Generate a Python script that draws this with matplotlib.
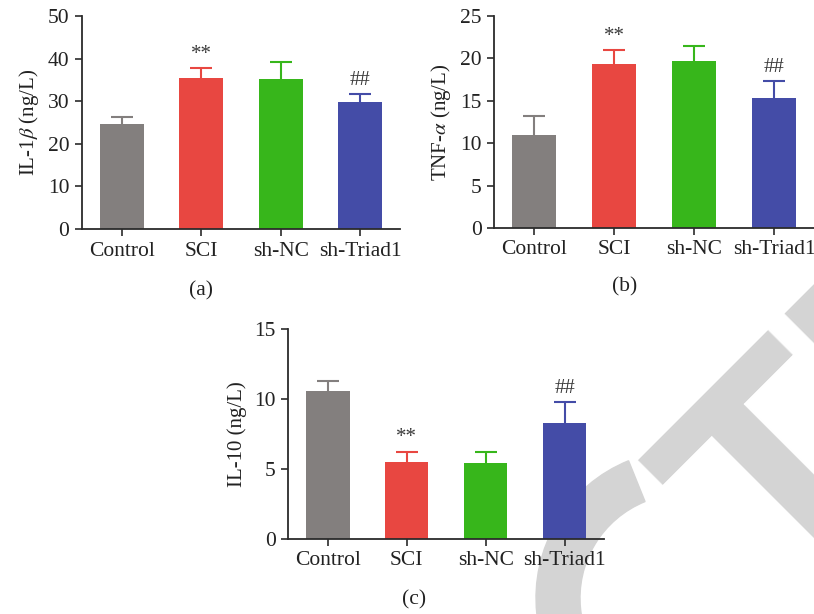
import numpy as np
import matplotlib
matplotlib.use("Agg")
import matplotlib.pyplot as plt
from matplotlib.patches import Wedge
from matplotlib.transforms import IdentityTransform

plt.rcParams.update(
    {
        "font.family": "Liberation Serif",
        "mathtext.fontset": "stix",
        "axes.linewidth": 1.3,
        "axes.edgecolor": "#2b2b2b",
        "xtick.color": "#2b2b2b",
        "ytick.color": "#2b2b2b",
        "xtick.labelcolor": "#222222",
        "ytick.labelcolor": "#222222",
    }
)

# %% datos
grupos = ["Control", "SCI", "sh-NC", "sh-Triad1"]
colores = ["#837f7e", "#e84741", "#37b61b", "#444ca7"]
marcas = ["", "**", "", "##"]

il1b = [24.6, 35.4, 35.2, 29.7]
il1b_err = [1.8, 2.4, 4.0, 1.9]

tnfa = [10.9, 19.35, 19.7, 15.35]
tnfa_err = [2.3, 1.65, 1.7, 2.0]

il10 = [10.56, 5.48, 5.43, 8.27]
il10_err = [0.7, 0.76, 0.77, 1.5]

paneles = [
    (il1b, il1b_err, "IL-1$\\beta$ (ng/L)", 50, 10, "(a)"),
    (tnfa, tnfa_err, "TNF-$\\alpha$ (ng/L)", 25, 5, "(b)"),
    (il10, il10_err, "IL-10 (ng/L)", 15, 5, "(c)"),
]
# [left, bottom, width, height] de cada panel y posicion de la etiqueta
posiciones = [
    [0.1007, 0.627, 0.3907, 0.347],
    [0.6069, 0.6287, 0.3931, 0.3457],
    [0.3542, 0.1227, 0.388, 0.341],
]
etiquetas_xy = [(0.247, 0.527), (0.767, 0.532), (0.509, 0.023)]

# %% figura
fig = plt.figure(figsize=(8.14, 6.14), dpi=100)
fig.patch.set_facecolor("white")

# marca de agua (RETRACTED girada 45 grados, solo se ve un trozo)
gris_wm = "#d4d4d4"
fig.text(0.9677, 0.0021, "TED", rotation=45, rotation_mode="anchor",
         ha="left", va="baseline", fontsize=225, family="Liberation Sans",
         weight="bold", color=gris_wm, zorder=-5)
# arco de la "C" (en pixeles)
fig.add_artist(Wedge((684, 16), 148, 112, 260, width=44, color=gris_wm,
                     transform=IdentityTransform(), zorder=-5))

x = np.arange(len(grupos))
for (vals, errs, ylab, ymax, paso, letra), pos, lxy in zip(
    paneles, posiciones, etiquetas_xy
):
    ax = fig.add_axes(pos)
    ax.patch.set_visible(False)
    ax.bar(x, vals, width=0.55, color=colores, zorder=2)
    for i in range(len(grupos)):
        ax.errorbar(x[i], vals[i], yerr=errs[i], fmt="none", ecolor=colores[i],
                    elinewidth=1.5, capsize=8, capthick=1.5, zorder=1)
        if marcas[i]:
            ax.annotate(marcas[i], (x[i], vals[i] + errs[i]), xytext=(0, 3),
                        textcoords="offset points", ha="center", va="bottom",
                        fontsize=15, color="#3a3a3a")
    ax.set_xlim(-0.5, 3.5)
    ax.set_ylim(0, ymax)
    ax.set_yticks(np.arange(0, ymax + 1, paso))
    ax.set_xticks(x)
    ax.set_xticklabels(grupos, fontsize=15.5)
    ax.tick_params(axis="y", labelsize=15.5, length=5, width=1.2, pad=4)
    ax.tick_params(axis="x", length=5, width=1.2, pad=4)
    ax.spines["top"].set_visible(False)
    ax.spines["right"].set_visible(False)
    ax.set_ylabel(ylab, fontsize=15, labelpad=5, color="#222222")
    fig.text(lxy[0], lxy[1], letra, ha="center", va="center", fontsize=15.5,
             color="#222222")

fig.savefig("out.png", dpi=100, facecolor="white")
